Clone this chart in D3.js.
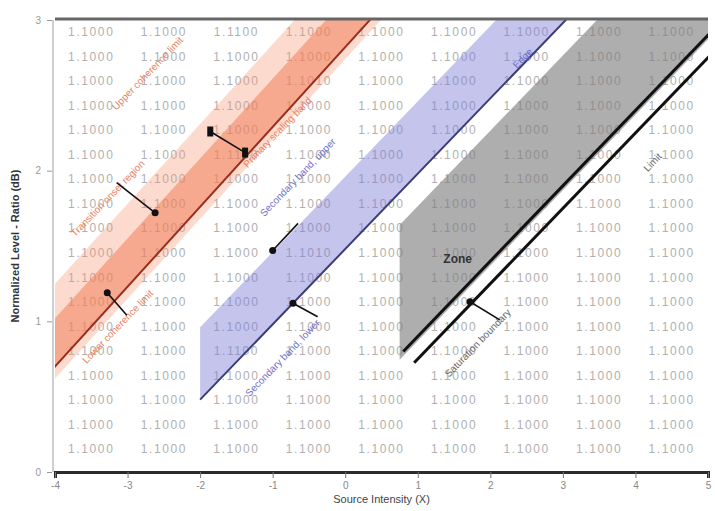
<!DOCTYPE html>
<html>
<head>
<meta charset="utf-8">
<script src="https://cdn.jsdelivr.net/npm/d3@7"></script>
<style>
  body { margin: 0; background: #fff; }
  svg { display: block; font-family: "Liberation Sans", Arial, sans-serif; }
</style>
</head>
<body>
<svg id="chart" width="715" height="511"></svg>
<script>
// ---- data ----
const xTickLabels = ["-4", "-3", "-2", "-1", "0", "1", "2", "3", "4", "5"];
const yTickLabels = ["0", "1", "2", "3"];

// every band edge is a line y = slope * x + c (x in tick steps)
const redSlope = 0.53;
const bandSlope = 0.5;
const redOuter = [0.62, 1.25];
const redInner = [0.7, 1.02];
const redEdge = 0.7;
const blueBand = [-0.52, -0.04];
const blueStart = 2.0;
const grayZone = { left: 4.75, upper: -0.735, lower: -1.63 };
const blackLines = [
  { c: -1.6, from: 4.8 },
  { c: -1.75, from: 4.95 },
];

// background value table (rows top to bottom, one cell per x interval)
const rowCount = 18;
const colCount = 9;
const cellValues = [
  "1.1000", "1.1000", "1.1000", "1.1000", "1.1000", "1.1000", "1.1000", "1.1000", "1.1000",
];
const oddCells = { "0,2": "1.1100", "2,3": "1.1010", "5,2": "1.1100", "9,3": "1.1010", "13,2": "1.1100" };

const labels = [
  { text: "Upper coherence limit", x: 1.31, y: 2.63, kind: "red" },
  { text: "Transition onset region", x: 0.76, y: 1.80, kind: "red" },
  { text: "Primary scaling band", x: 3.1, y: 2.24, kind: "red" },
  { text: "Lower coherence limit", x: 0.9, y: 0.95, kind: "red" },
  { text: "Secondary band, upper", x: 3.38, y: 1.94, kind: "blue" },
  { text: "Secondary band, lower", x: 3.17, y: 0.74, kind: "blue" },
  { text: "Edge", x: 6.48, y: 2.73, kind: "blue" },
  { text: "Saturation boundary", x: 5.86, y: 0.84, kind: "gray" },
  { text: "Limit", x: 8.27, y: 2.04, kind: "gray" },
];

const pointers = [
  { x1: 0.85, y1: 1.92, x2: 1.38, y2: 1.72, end: "dot" },
  { x1: 0.99, y1: 1.04, x2: 0.72, y2: 1.19, end: "dot" },
  { x1: 3.35, y1: 1.65, x2: 3.0, y2: 1.47, end: "dot" },
  { x1: 3.62, y1: 1.03, x2: 3.28, y2: 1.12, end: "dot" },
  { x1: 6.13, y1: 1.01, x2: 5.72, y2: 1.13, end: "dot" },
  { x1: 2.14, y1: 2.26, x2: 2.62, y2: 2.12, end: "bar" },
];
const zoneLabel = { text: "Zone", x: 5.55, y: 1.39 };

// ---- layout ----
const svg = d3.select("#chart");
const x = d3.scaleLinear().domain([0, 9]).range([55, 708]);
const y = d3.scaleLinear().domain([0, 3]).range([472, 20]);
const colors = { red: "#e8825f", blue: "#7070c8", gray: "#666" };

svg.append("defs").append("clipPath").attr("id", "plot")
  .append("rect")
  .attr("x", x(0)).attr("y", y(3))
  .attr("width", x(9) - x(0)).attr("height", y(0) - y(3));

const plot = svg.append("g").attr("clip-path", "url(#plot)");

// background table
const rowPos = d3.scalePoint().domain(d3.range(rowCount)).range([y(2.92), y(0.15)]);
const cells = [];
for (let r = 0; r < rowCount; r++) {
  for (let c = 0; c < colCount; c++) {
    cells.push({ r, c, v: oddCells[`${r},${c}`] ?? cellValues[c] });
  }
}
plot.append("g").selectAll("text").data(cells).join("text")
  .attr("x", (d) => x(d.c + 0.5))
  .attr("y", (d) => rowPos(d.r) + 4)
  .attr("text-anchor", "middle")
  .attr("font-size", 12)
  .attr("letter-spacing", 1.6)
  .attr("fill", "#b0b0b0")
  .text((d) => d.v);

const lineY = (c, xv, s = bandSlope) => s * xv + c;
const band = (lo, hi, x0 = -1, s = bandSlope) => {
  const x1 = 12;
  return [
    [x(x0), y(lineY(lo, x0, s))], [x(x1), y(lineY(lo, x1, s))],
    [x(x1), y(lineY(hi, x1, s))], [x(x0), y(lineY(hi, x0, s))],
  ];
};
const poly = d3.line();

// red band
plot.append("path").attr("d", poly(band(redOuter[0], redOuter[1], -1, redSlope)) + "Z")
  .attr("fill", "rgba(246,150,115,0.35)");
plot.append("path").attr("d", poly(band(redInner[0], redInner[1], -1, redSlope)) + "Z")
  .attr("fill", "rgba(240,120,80,0.5)");
plot.append("line")
  .attr("x1", x(-1)).attr("y1", y(lineY(redEdge, -1, redSlope)))
  .attr("x2", x(12)).attr("y2", y(lineY(redEdge, 12, redSlope)))
  .attr("stroke", "#9a2e1e").attr("stroke-width", 2);

// blue band
plot.append("path").attr("d", poly(band(blueBand[0], blueBand[1], blueStart)) + "Z")
  .attr("fill", "rgba(125,125,215,0.45)");
plot.append("line")
  .attr("x1", x(blueStart)).attr("y1", y(lineY(blueBand[0], blueStart)))
  .attr("x2", x(12)).attr("y2", y(lineY(blueBand[0], 12)))
  .attr("stroke", "#3c3c78").attr("stroke-width", 2);

// gray zone
const gz = grayZone;
const grayPts = [
  [gz.left, lineY(gz.lower, gz.left)],
  [gz.left, lineY(gz.upper, gz.left)],
  [(3.2 - gz.upper) / bandSlope, 3.2],
  [9.5, 3.2],
  [9.5, lineY(gz.lower, 9.5)],
].map(([a, b]) => [x(a), y(b)]);
plot.append("path").attr("d", poly(grayPts) + "Z")
  .attr("fill", "rgba(125,125,125,0.62)");

// black double line
plot.selectAll(".bl").data(blackLines).join("line").attr("class", "bl")
  .attr("x1", (d) => x(d.from)).attr("y1", (d) => y(lineY(d.c, d.from)))
  .attr("x2", x(12)).attr("y2", (d) => y(lineY(d.c, 12)))
  .attr("stroke", "#111").attr("stroke-width", 3);

// rotated labels
const angle = Math.atan2(y(bandSlope) - y(0), x(1) - x(0)) * 180 / Math.PI;
plot.append("g").selectAll("text").data(labels).join("text")
  .attr("transform", (d) => `translate(${x(d.x)},${y(d.y)}) rotate(${angle})`)
  .attr("text-anchor", "middle")
  .attr("font-size", 10)
  .attr("fill", (d) => colors[d.kind])
  .text((d) => d.text);

// pointer lines
const pg = plot.append("g");
pg.selectAll("line").data(pointers).join("line")
  .attr("x1", (d) => x(d.x1)).attr("y1", (d) => y(d.y1))
  .attr("x2", (d) => x(d.x2)).attr("y2", (d) => y(d.y2))
  .attr("stroke", "#111").attr("stroke-width", 1.6);
pg.selectAll("circle").data(pointers.filter((d) => d.end === "dot")).join("circle")
  .attr("cx", (d) => x(d.x2)).attr("cy", (d) => y(d.y2))
  .attr("r", 3.5).attr("fill", "#111");
pointers.filter((d) => d.end === "bar").forEach((d) => {
  [[d.x1, d.y1], [d.x2, d.y2]].forEach(([a, b]) => {
    pg.append("rect")
      .attr("x", x(a) - 3).attr("y", y(b) - 5)
      .attr("width", 6).attr("height", 10).attr("fill", "#111");
  });
});
plot.append("text")
  .attr("x", x(zoneLabel.x)).attr("y", y(zoneLabel.y))
  .attr("text-anchor", "middle")
  .attr("font-size", 12).attr("font-weight", "bold")
  .attr("fill", "#333")
  .text(zoneLabel.text);

// ---- axes ----
svg.append("line")
  .attr("x1", x(0)).attr("x2", x(9)).attr("y1", y(3) - 1).attr("y2", y(3) - 1)
  .attr("stroke", "#666").attr("stroke-width", 3);
svg.append("line")
  .attr("x1", x(0) - 2).attr("x2", x(0) - 2).attr("y1", y(3)).attr("y2", y(0))
  .attr("stroke", "#cfcfcf").attr("stroke-width", 2);

const xAxis = svg.append("g").attr("transform", `translate(0,${y(0)})`)
  .call(d3.axisBottom(x).tickValues(d3.range(10)).tickFormat((i) => xTickLabels[i]).tickSize(6).tickPadding(4));
xAxis.select(".domain").attr("stroke", "#2a2a2a").attr("stroke-width", 3);
xAxis.selectAll(".tick line").attr("stroke", "#777");
xAxis.selectAll(".tick text").attr("fill", "#888").attr("font-size", 10);

const yAxis = svg.append("g").attr("transform", `translate(${x(0) - 3},0)`)
  .call(d3.axisLeft(y).tickValues(d3.range(4)).tickFormat((i) => yTickLabels[i]).tickSize(5).tickPadding(6));
yAxis.select(".domain").remove();
yAxis.selectAll(".tick line").attr("stroke", "#999");
yAxis.selectAll(".tick text").attr("fill", "#999").attr("font-size", 10);

svg.append("text")
  .attr("x", (x(0) + x(9)) / 2).attr("y", 503)
  .attr("text-anchor", "middle")
  .attr("font-size", 11).attr("fill", "#444")
  .text("Source Intensity (X)");
svg.append("text")
  .attr("transform", `translate(19,${(y(0) + y(3)) / 2}) rotate(-90)`)
  .attr("text-anchor", "middle")
  .attr("font-size", 11).attr("font-weight", "bold").attr("fill", "#333")
  .text("Normalized Level - Ratio (dB)");
</script>
</body>
</html>
